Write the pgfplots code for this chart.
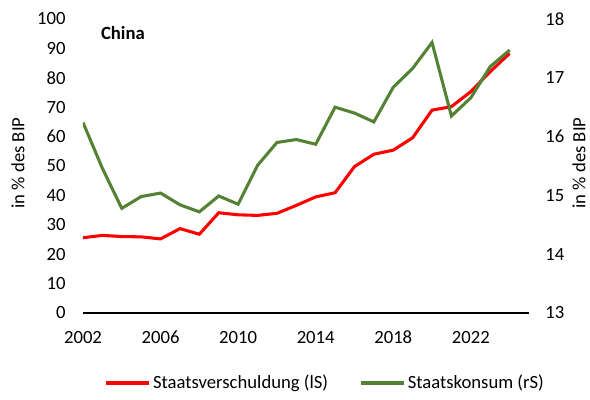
\documentclass[border=0pt]{standalone}
\usepackage{fontspec}
\setmainfont{Carlito}
\usepackage{pgfplots}
\pgfplotsset{compat=1.18}
\definecolor{debtred}{RGB}{255,0,0}
\definecolor{consgreen}{RGB}{84,130,53}

\pgfplotsset{
  base/.style={
    scale only axis,
    width=334.5pt, height=220.5pt,
    xmin=2002, xmax=2025,
    major tick length=0pt,
    tick label style={font=\fontsize{14}{16}\selectfont},
    label style={font=\fontsize{14}{16}\selectfont},
    /pgf/number format/assume math mode=true,
    /pgf/number format/1000 sep={},
  }
}

\begin{document}
\begin{tikzpicture}
\begin{axis}[
  base,
  name=ax,
  ymin=0, ymax=100, ytick={0,10,...,100},
  axis x line*=bottom,
  axis y line*=left,
  y axis line style={draw=none},
  x axis line style={draw=black, line width=1pt},
  xtick={2002,2006,...,2022},
  xticklabel style={yshift=-10pt},
  yticklabel style={xshift=-9.6pt},
  ylabel={in \% des BIP},
  ylabel style={at={(axis description cs:-0.146,0.51)}, anchor=center, rotate=0},
  legend style={at={(0.544,-0.238)}, anchor=center, draw=none, fill=none,
    font=\fontsize{14}{16}\selectfont, legend columns=2,
    /tikz/every even column/.append style={column sep=21.5pt}},
  legend image code/.code={\draw[#1] (0pt,0pt) -- (32pt,0pt);},
]
\addplot[debtred, line width=2.3pt] coordinates {
(2002,25.6) (2003,26.4) (2004,26.0) (2005,25.9) (2006,25.2) (2007,28.7)
(2008,26.8) (2009,34.1) (2010,33.4) (2011,33.2) (2012,33.9) (2013,36.6)
(2014,39.5) (2015,40.9) (2016,49.8) (2017,54.0) (2018,55.4) (2019,59.6)
(2020,69.0) (2021,70.2) (2022,75.3) (2023,82.1) (2024,88.3)};
\addlegendentry{Staatsverschuldung (lS)}
\addlegendimage{consgreen, line width=2.3pt}
\addlegendentry{Staatskonsum (rS)}
\node[anchor=west, font=\fontsize{14}{16}\selectfont\bfseries] at (rel axis cs:0.03,0.952) {China};
\end{axis}
\begin{axis}[
  base,
  ymin=13, ymax=18, ytick={13,...,18},
  axis x line=none,
  axis y line*=right,
  y axis line style={draw=none},
  yticklabel style={xshift=8.8pt},
  ylabel={in \% des BIP},
  ylabel style={at={(axis description cs:1.112,0.51)}, anchor=center, rotate=0},
]
\addplot[consgreen, line width=2.3pt] coordinates {
(2002,16.24) (2003,15.46) (2004,14.78) (2005,14.98) (2006,15.04) (2007,14.84)
(2008,14.72) (2009,14.99) (2010,14.85) (2011,15.51) (2012,15.90) (2013,15.95)
(2014,15.87) (2015,16.50) (2016,16.40) (2017,16.25) (2018,16.84) (2019,17.16)
(2020,17.60) (2021,16.35) (2022,16.66) (2023,17.19) (2024,17.47)};
\end{axis}
\pgfresetboundingbox
\path[use as bounding box] ([xshift=-62.25pt,yshift=-65.25pt]ax.south west)
  rectangle ([xshift=380.25pt,yshift=234.75pt]ax.south west);
\end{tikzpicture}
\end{document}
